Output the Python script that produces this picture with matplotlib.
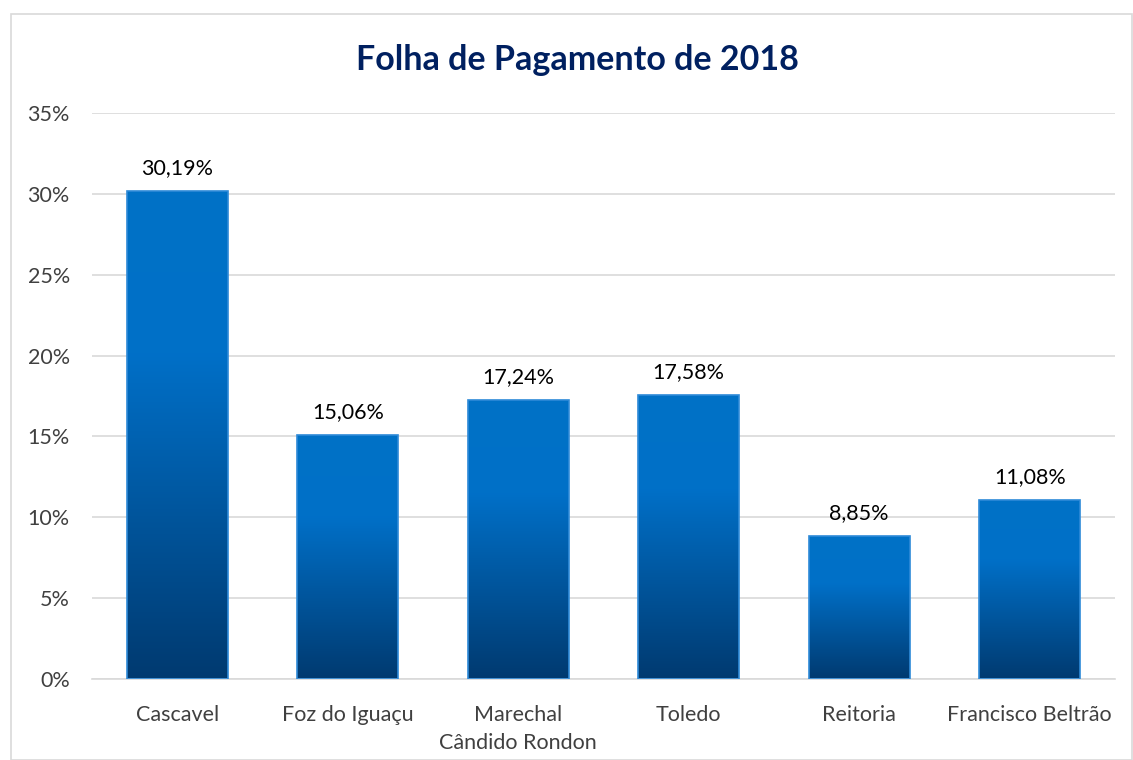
import numpy as np
import matplotlib.pyplot as plt
from matplotlib.colors import LinearSegmentedColormap
from matplotlib.patches import Rectangle
from matplotlib.ticker import FuncFormatter

plt.rcParams['font.family'] = ['Lato', 'DejaVu Sans']

categorias = ['Cascavel', 'Foz do Iguaçu', 'Marechal\nCândido Rondon', 'Toledo',
              'Reitoria', 'Francisco Beltrão']
valores = [30.19, 15.06, 17.24, 17.58, 8.85, 11.08]
rotulos = ['30,19%', '15,06%', '17,24%', '17,58%', '8,85%', '11,08%']

fig = plt.figure(figsize=(11.33, 7.6), dpi=100)
ax = fig.add_axes([92 / 1133, 1 - 679 / 760, (1115 - 92) / 1133, (679 - 113) / 760])

# moldura externa
fig.patches.append(Rectangle((11 / 1133, 0), 1 - 11 / 1133 - 0.001, 1 - 14 / 760,
                             transform=fig.transFigure, fill=False,
                             edgecolor='#d9d9d9', linewidth=1.2))

cmap = LinearSegmentedColormap.from_list('azul', ['#003a70', '#00559c', '#0070c8', '#0072c6'])
grad = np.linspace(0, 1, 256).reshape(-1, 1)

x = np.arange(len(categorias))
bars = ax.bar(x, valores, width=0.59, color='none', edgecolor='#2e8ad8', linewidth=1.2, zorder=3)
for b in bars:
    x0, y0 = b.get_x(), b.get_y()
    w, h = b.get_width(), b.get_height()
    im = ax.imshow(grad, cmap=cmap, origin='lower', aspect='auto',
                   extent=[x0, x0 + w, y0, y0 + h], zorder=2)
    im.set_clip_path(b)

for xi, v, r in zip(x, valores, rotulos):
    ax.text(xi, v + 0.8, r, ha='center', va='bottom', fontsize=15.5, color='#000000')

ax.set_xlim(-0.5, len(categorias) - 0.5)
ax.set_ylim(0, 35)
ax.set_yticks(np.arange(0, 36, 5))
ax.yaxis.set_major_formatter(FuncFormatter(lambda v, p: f'{v:.0f}%'))
ax.set_xticks(x)
ax.set_xticklabels(categorias, fontsize=15.5, color='#404040', linespacing=1.45)
ax.tick_params(axis='y', labelsize=15.5, labelcolor='#404040', length=0, pad=16)
ax.tick_params(axis='x', length=0, pad=19)
ax.grid(axis='y', color='#d9d9d9', linewidth=1.2, zorder=0)
ax.set_axisbelow(True)
for s in ['top', 'right', 'left']:
    ax.spines[s].set_visible(False)
ax.spines['bottom'].set_color('#d9d9d9')
ax.spines['bottom'].set_linewidth(1.2)

fig.text(577 / 1133, 1 - 60 / 760, 'Folha de Pagamento de 2018', ha='center',
         va='center', fontsize=24.5, fontweight='bold', color='#002060')

fig.savefig('out.png', dpi=100)
